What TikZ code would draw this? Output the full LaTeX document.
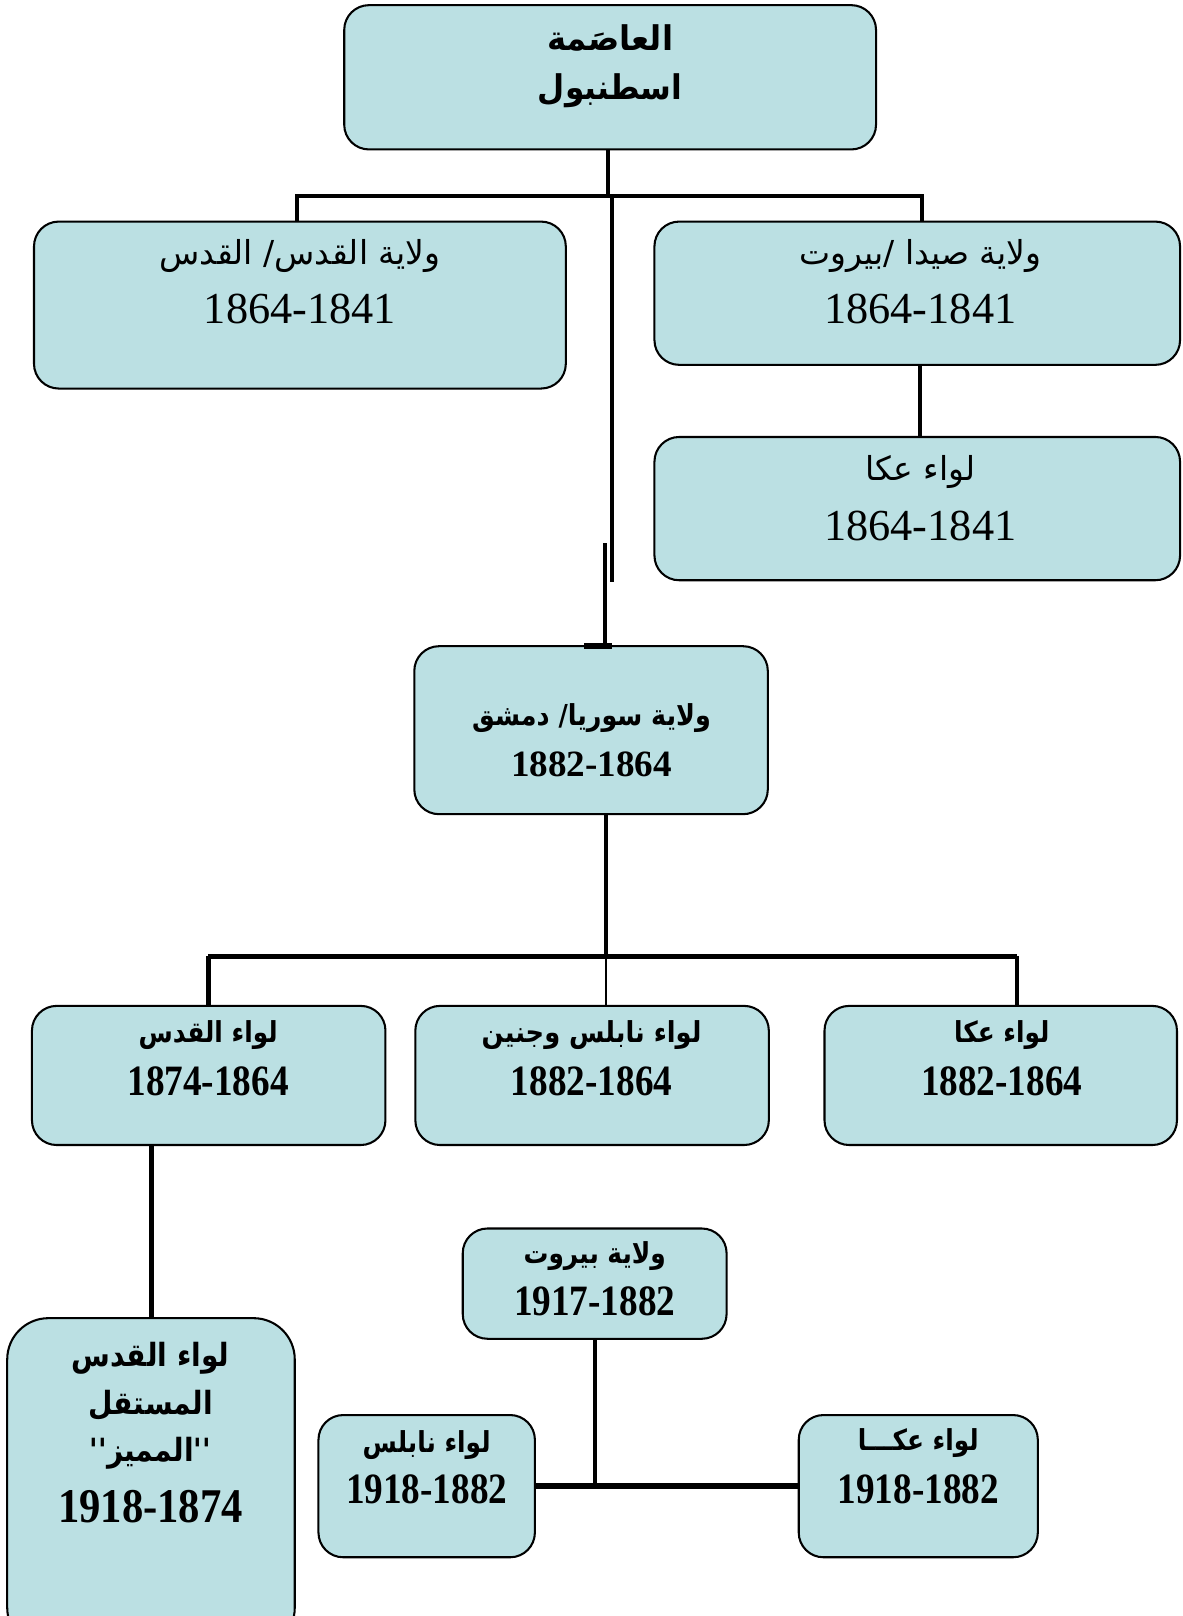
\documentclass[tikz,border=0pt]{standalone}
\usepackage{fontspec}
\usepackage{graphicx}
\usetikzlibrary{fit}
\TeXXeTstate=1
\newfontfamily\arabicfont[Script=Arabic]{DejaVu Sans}
\newfontfamily\numfont{Liberation Serif}
\definecolor{boxfill}{RGB}{187,224,227}
\tikzset{
  box/.style={draw=black, line width=1pt, fill=boxfill, rounded corners=12pt, inner sep=0pt},
  conn/.style={line width=2pt},
  thinconn/.style={line width=0.6pt},
  arreg/.style={font={\arabicfont\fontsize{16}{18}\selectfont}},
  arbold/.style={font={\arabicfont\bfseries\fontsize{14}{16}\selectfont}},
  numreg/.style={font={\numfont\fontsize{21.5}{24}\selectfont}},
  numbold/.style={font={\numfont\bfseries\fontsize{18}{20}\selectfont}},
  numcond/.style={font={\numfont\bfseries\fontsize{21}{24}\selectfont}},
}
% condensed bold lines, as set in the lower boxes
\newcommand{\cond}[1]{\scalebox{0.86}[1]{#1}}
\newcommand{\arb}[2][0.86]{\scalebox{#1}[1]{\beginR #2\endR}}
\begin{document}
\begin{tikzpicture}[x=0.5pt, y=-0.5pt]
\useasboundingbox (0,0) rectangle (1147,1568);

% ---- boxes ----
\node[box, fit={(334,5)(850,145)}] (capital) {};
\node[box, fit={(33,215)(549,377)}] (qudsvil) {};
\node[box, fit={(635,215)(1145,354)}] (saida) {};
\node[box, fit={(635,424)(1145,563)}] (akka1) {};
\node[box, fit={(402,627)(745,790)}] (syria) {};
\node[box, fit={(31,976)(374,1111)}] (quds2) {};
\node[box, fit={(403,976)(746,1111)}] (nablus1) {};
\node[box, fit={(800,976)(1142,1111)}] (akka2) {};
\node[box, rounded corners=20pt, fit={(7,1279)(286,1600)}] (quds3) {};
\node[box, fit={(449,1192)(705,1299)}] (beirut) {};
\node[box, fit={(309,1373)(519,1511)}] (nablus2) {};
\node[box, fit={(775,1373)(1007,1511)}] (akka3) {};

% ---- texts ----
\node[arbold, font={\arabicfont\bfseries\fontsize{16.5}{18}\selectfont}] (t-cap1) at (592,37) {\arb[0.95]{العاصَمة}};
\node[arbold, font={\arabicfont\bfseries\fontsize{16.5}{18}\selectfont}] (t-cap2) at (592,88) {\arb[0.92]{اسطنبول}};

\node[arreg] (t-qv1) at (291,248) {\beginR ولاية القدس/ القدس\endR};
\node[numreg] (t-qv2) at (291,300) {1864-1841};

\node[arreg] (t-sa1) at (893,248) {\beginR ولاية صيدا /بيروت\endR};
\node[numreg] (t-sa2) at (893,300) {1864-1841};

\node[arreg] (t-ak1) at (893,458) {\beginR لواء عكا\endR};
\node[numreg] (t-ak2) at (893,510) {1864-1841};

\node[arbold] (t-sy1) at (574,697) {\arb[0.88]{ولاية سوريا/ دمشق}};
\node[numbold] (t-sy2) at (574,742) {1882-1864};

\node[arbold] (t-q21) at (202,1004) {\arb{لواء القدس}};
\node[numcond] (t-q22) at (202,1049) {\cond{1874-1864}};

\node[arbold] (t-n11) at (574,1004) {\arb[0.89]{لواء نابلس وجنين}};
\node[numcond] (t-n12) at (574,1049) {\cond{1882-1864}};

\node[arbold] (t-a21) at (972,1004) {\arb{لواء عكا}};
\node[numcond] (t-a22) at (972,1049) {\cond{1882-1864}};

\node[arbold, font={\arabicfont\bfseries\fontsize{15.5}{17}\selectfont}] (t-q31) at (146,1318) {\arb[0.88]{لواء القدس}};
\node[arbold, font={\arabicfont\bfseries\fontsize{15.5}{17}\selectfont}] (t-q32) at (146,1364) {\arb[0.88]{المستقل}};
\node[arbold, font={\arabicfont\bfseries\fontsize{15.5}{17}\selectfont}] (t-q33) at (146,1410) {\arb[0.88]{''المميز''}};
\node[numcond, font={\numfont\bfseries\fontsize{23.5}{26}\selectfont}] (t-q34) at (146,1462) {\scalebox{0.88}[1]{1918-1874}};

\node[arbold] (t-b1) at (577,1219) {\arb{ولاية بيروت}};
\node[numcond] (t-b2) at (577,1263) {\cond{1917-1882}};

\node[arbold] (t-n21) at (414,1402) {\arb{لواء نابلس}};
\node[numcond] (t-n22) at (414,1445) {\cond{1918-1882}};

\node[arbold] (t-a31) at (891,1400) {\arb{لواء عكـــا}};
\node[numcond] (t-a32) at (891,1445) {\cond{1918-1882}};

% ---- connectors: upper level ----
\coordinate (barL) at (288,190);
\coordinate (barR) at (895,190);
\draw[conn] (capital.south -| 590,0) -- (590,190);
\draw[conn] (barL |- qudsvil.north) -- (barL) -- (barR) -- (barR |- saida.north);
\draw[conn] (saida.south -| 893,0) -- (akka1.north -| 893,0);

% trunk down to the Syria vilayet
\coordinate (trunkA) at (594,190);
\coordinate (trunkB) at (594,565);
\coordinate (trunkC) at (587,527);
\draw[conn] (trunkA) -- (trunkB);
\draw[conn] (trunkC) -- (trunkC |- syria.north);
\draw[line width=3pt] (567,627) -- (594,627);

% ---- connectors: Syria vilayet ----
\coordinate (sybar) at (588,928);
\draw[conn] (syria.south -| sybar) -- (sybar);
\draw[line width=2.6pt] (202,928) -- (987,928);
\draw[line width=2.4pt] (202,928) -- (quds2.north -| 202,0);
\draw[thinconn] (sybar) -- (nablus1.north -| sybar);
\draw[conn] (987,928) -- (akka2.north -| 987,0);

% ---- connectors: lower level ----
\draw[conn] (quds3.north -| 147,0) -- (quds2.south -| 147,0);
\coordinate (bjoin) at (577,1442);
\draw[conn] (beirut.south -| bjoin) -- (bjoin);
\draw[line width=2.6pt] (nablus2.east) -- (akka3.west);
\end{tikzpicture}
\end{document}
